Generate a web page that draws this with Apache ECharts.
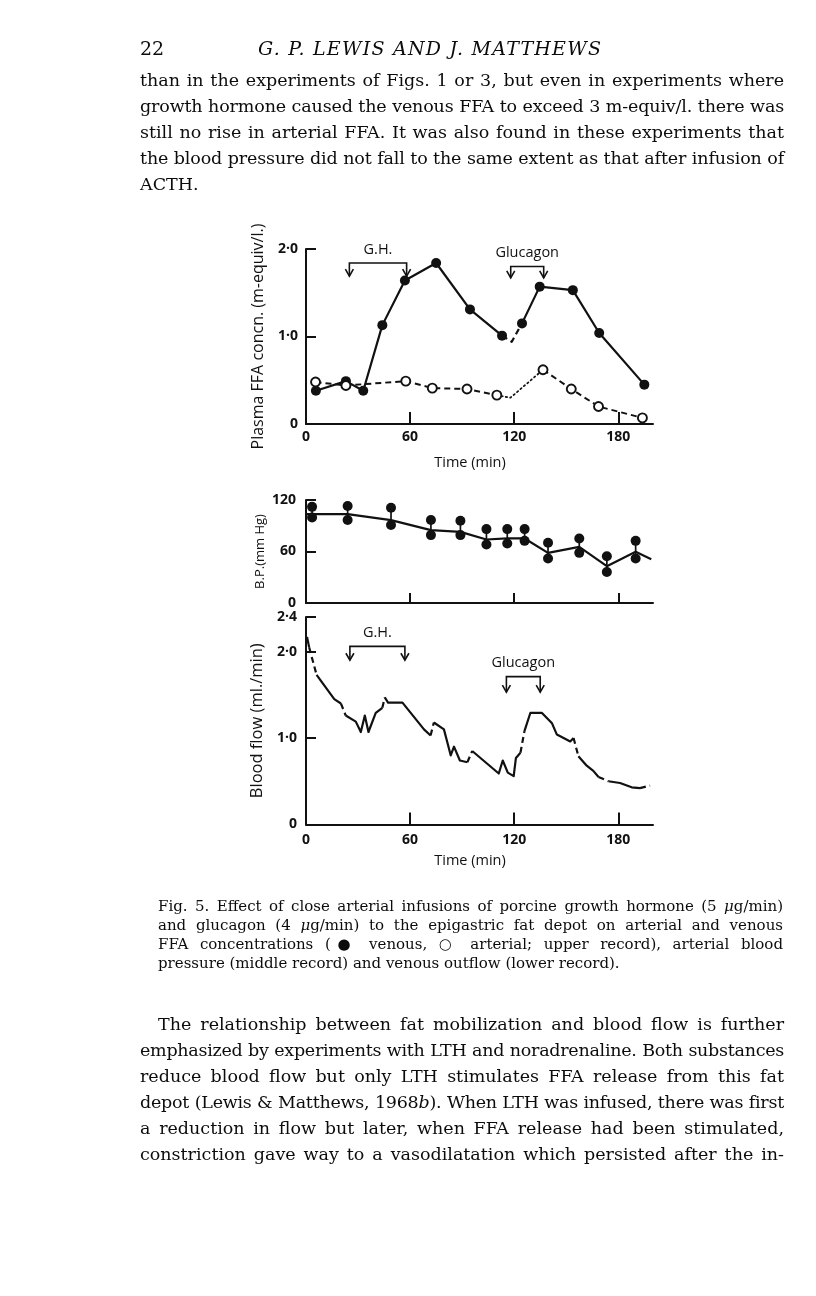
<!DOCTYPE html>
<html><head><meta charset="utf-8">
<script src="https://cdn.jsdelivr.net/npm/echarts@6/dist/echarts.min.js"></script>
<style>
html,body{margin:0;padding:0;background:#fff;}
#chart{position:absolute;left:0;top:0;width:816px;height:1296px;}
.t{position:absolute;font-family:"DejaVu Serif",serif;color:#0c0c0c;white-space:nowrap;}
</style></head><body>
<div id="chart"></div>
<script>
// ---------- data ----------
const xTicks = [0, 60, 120, 180];
const ffaTicks = [0, 1, 2];
const bpTicks = [0, 60, 120];
const flowTicks = [0, 1, 2, 2.4];

// Plasma FFA, venous (filled circles)
const venTime = [5.7, 23, 33, 44, 57, 75, 94.5, 113, 118.6, 124.5, 134.7, 153.8, 169, 195];
const venFFA  = [0.38, 0.49, 0.38, 1.13, 1.64, 1.84, 1.31, 1.01, 0.94, 1.15, 1.57, 1.53, 1.04, 0.45];
const venMark = [1,1,1,1,1,1,1,1,0,1,1,1,1,1];
const venSeg  = ['s','s','s','s','s','s','s','d','d','s','s','s','s'];

// Plasma FFA, arterial (open circles)
const artTime = [5.5, 23, 57.5, 72.8, 92.8, 110, 117.8, 136.6, 152.9, 168.6, 193.9];
const artFFA  = [0.48, 0.44, 0.49, 0.41, 0.40, 0.33, 0.30, 0.62, 0.40, 0.20, 0.07];
const artMark = [1,1,1,1,1,1,0,1,1,1,1];
const artSeg  = ['d','d','d','d','d','o','o','d','d','d'];

// Blood pressure
const bpTime = [3.5, 24, 49, 72, 89, 104, 116, 126, 139.5, 157.5, 173.4, 190];
const bpSys  = [112, 113, 111, 96.6, 95.8, 86.1, 86.1, 86.1, 70.1, 75.2, 54.5, 72.4];
const bpDia  = [99.7, 96.6, 90.8, 79.1, 79.1, 68.2, 69.4, 72.4, 51.9, 58.4, 36.2, 51.9];
const bpLineTime = [0, 24, 49, 72, 89, 104, 116, 126, 139.5, 157.5, 173.4, 190, 199];
const bpLineVal  = [103.6, 103.6, 96.6, 84.9, 82.9, 74, 75.2, 75.2, 58.4, 65.4, 42.9, 59.6, 51];

// Blood flow trace
const flowTime = [0.6, 1.8, 6.1, 16.3, 20.1, 22.9, 28.7, 31.6, 33.9, 36.0, 40.2, 44.0, 45.4, 47.3, 55.6,
  68.0, 71.8, 73.7, 79.5, 83.4, 85.3, 88.7, 93.0, 95.8, 111.1, 113.4, 116.3, 119.7, 121.0, 123.6,
  125.9, 129.3, 136.0, 141.8, 144.6, 152.3, 154.2, 157.0, 161.8, 165.6, 168.6, 174.3, 181.0, 187.7, 192.5, 198.3];
const flowVal = [2.17, 2.05, 1.73, 1.45, 1.40, 1.26, 1.19, 1.07, 1.26, 1.07, 1.29, 1.35, 1.47, 1.41, 1.41,
  1.10, 1.03, 1.18, 1.10, 0.80, 0.90, 0.74, 0.72, 0.85, 0.59, 0.74, 0.60, 0.56, 0.77, 0.83,
  1.08, 1.29, 1.29, 1.17, 1.04, 0.96, 1.00, 0.79, 0.68, 0.62, 0.55, 0.50, 0.48, 0.43, 0.42, 0.45];
const flowSeg = ['s','d','s','s','d','s','s','s','s','s','s','d','s','s','s',
  's','d','s','s','s','s','s','d','s','s','s','s','s','s','d',
  's','s','s','s','s','s','d','s','s','s','d','s','s','s','d'];

// Infusion periods (min)
const ghTop = [25, 58], glucTop = [118, 137];
const ghLow = [25.3, 57], glucLow = [115.5, 135];

// ---------- drawing ----------
const INK = '#111';
const SANS = '"Open Sans", Lato, sans-serif';
const TICKFONT = {fontFamily:SANS, fontWeight:'bold', fontSize:14, color:INK};
const NAMEFONT = {fontFamily:SANS, fontSize:15.5, color:INK};
const dec = v => v === 0 ? '0' : v.toFixed(1).replace('.', '\u00b7');

function xAx(i, showLabels, tickLen, labelMargin, nameGap) {
  return {
    type:'value', gridIndex:i, min:0, max:200,
    axisLine:{onZero:false, lineStyle:{color:INK, width:2}},
    axisTick:{inside:true, length:tickLen, customValues:xTicks.filter(v => v > 0), lineStyle:{color:INK, width:2}},
    axisLabel:Object.assign({show:showLabels, customValues:xTicks, margin:labelMargin}, TICKFONT),
    splitLine:{show:false},
    name: showLabels ? 'Time (min)' : '', nameLocation:'middle', nameGap:nameGap,
    nameTextStyle:Object.assign({padding:[0,19,0,0]}, NAMEFONT, {fontSize:14.5})
  };
}
function yAx(i, max, ticks, fmt, name, nameSize, margin, nameGap) {
  return {
    type:'value', gridIndex:i, min:0, max:max,
    axisLine:{onZero:false, lineStyle:{color:INK, width:2}},
    axisTick:{inside:true, length:10, customValues:ticks.filter(v => v > 0), lineStyle:{color:INK, width:2}},
    axisLabel:Object.assign({customValues:ticks, formatter:fmt, margin:margin}, TICKFONT),
    splitLine:{show:false},
    name:name, nameLocation:'middle', nameRotate:90, nameGap:nameGap,
    nameTextStyle:Object.assign({}, NAMEFONT, {fontSize:nameSize})
  };
}

const dashes = {s:'solid', d:[6,4], o:[1.5,3]};
function runs(times, vals, segs, axis, width) {
  const out = []; let cur = null;
  for (let i = 0; i < segs.length; i++) {
    if (!cur || cur.style !== segs[i]) { cur = {style:segs[i], pts:[[times[i], vals[i]]]}; out.push(cur); }
    cur.pts.push([times[i+1], vals[i+1]]);
  }
  return out.map(r => ({
    type:'line', xAxisIndex:axis, yAxisIndex:axis, data:r.pts, symbol:'none', silent:true,
    lineStyle:{color:INK, opacity:1, width: r.style === 'o' ? 1.7 : width, type: dashes[r.style], join:'round', cap: r.style==='o' ? 'round' : 'butt'},
    z:2
  }));
}

function bracket(axis, win, yTop, yTip, label) {
  return {
    type:'custom', xAxisIndex:axis, yAxisIndex:axis, silent:true, z:5,
    data:[win],
    renderItem:function(params, api) {
      const a = api.coord([api.value(0), yTop]), b = api.coord([api.value(1), yTop]);
      const ta = api.coord([api.value(0), yTip]), tb = api.coord([api.value(1), yTip]);
      const st = {stroke:INK, lineWidth:1.6, fill:null};
      const head = p => ({type:'polyline', shape:{points:[[p[0]-4, p[1]-7], p, [p[0]+4, p[1]-7]]}, style:st});
      return {type:'group', children:[
        {type:'polyline', shape:{points:[ta, a, b, tb]}, style:st},
        head(ta), head(tb),
        {type:'text', x:(a[0]+b[0])/2, y:a[1]-6, style:{text:label, align:'center', verticalAlign:'bottom', fontFamily:SANS, fontSize:14.5, fill:INK}}
      ]};
    }
  };
}

const series = [];
series.push(...runs(venTime, venFFA, venSeg, 0, 2.2));
series.push(...runs(artTime, artFFA, artSeg, 0, 2));
series.push({type:'scatter', xAxisIndex:0, yAxisIndex:0, symbol:'circle', symbolSize:10, silent:true, z:4,
  data: venTime.map((t,i) => [t, venFFA[i]]).filter((p,i) => venMark[i]), itemStyle:{color:INK, opacity:1}});
series.push({type:'scatter', xAxisIndex:0, yAxisIndex:0, symbol:'circle', symbolSize:9, silent:true, z:6,
  data: artTime.map((t,i) => [t, artFFA[i]]).filter((p,i) => artMark[i]), itemStyle:{color:'#fff', opacity:1, borderColor:INK, borderWidth:1.9}});
series.push(bracket(0, ghTop, 1.84, 1.69, 'G.H.'));
series.push(bracket(0, glucTop, 1.80, 1.67, 'Glucagon'));

// Blood pressure
series.push({type:'line', xAxisIndex:1, yAxisIndex:1, symbol:'none', silent:true, z:2,
  data: bpLineTime.map((t,i) => [t, bpLineVal[i]]), lineStyle:{color:INK, width:2.2, opacity:1}});
series.push({type:'custom', xAxisIndex:1, yAxisIndex:1, silent:true, z:3,
  data: bpTime.map((t,i) => [t, bpSys[i], bpDia[i]]),
  renderItem:function(params, api) {
    const p1 = api.coord([api.value(0), api.value(1)]), p2 = api.coord([api.value(0), api.value(2)]);
    return {type:'line', shape:{x1:p1[0], y1:p1[1], x2:p2[0], y2:p2[1]}, style:{stroke:INK, lineWidth:1.7}};
  }});
series.push({type:'scatter', xAxisIndex:1, yAxisIndex:1, symbol:'circle', symbolSize:10, silent:true, z:4,
  data: bpTime.map((t,i) => [t, bpSys[i]]).concat(bpTime.map((t,i) => [t, bpDia[i]])), itemStyle:{color:INK, opacity:1}});

// Blood flow
series.push(...runs(flowTime, flowVal, flowSeg, 2, 2.2));
series.push(bracket(2, ghLow, 2.06, 1.90, 'G.H.'));
series.push(bracket(2, glucLow, 1.71, 1.53, 'Glucagon'));

const chart = echarts.init(document.getElementById('chart'), null, {renderer:'canvas'});
chart.setOption({
  animation:false,
  backgroundColor:'#fff',
  grid:[
    {left:306, top:249, width:347, height:175},
    {left:306, top:500, width:347, height:103},
    {left:306, top:617, width:347, height:207.5}
  ],
  xAxis:[xAx(0, true, 12, 6, 31), xAx(1, false, 10, 7, 30), xAx(2, true, 12, 9, 29)],
  yAxis:[
    yAx(0, 2, ffaTicks, dec, 'Plasma FFA concn. (m-equiv/l.)', 16, 8, 40),
    yAx(1, 120, bpTicks, v => String(v), 'B.P.(mm Hg)', 13, 10, 39),
    yAx(2, 2.4, flowTicks, dec, 'Blood flow (ml./min)', 16.5, 9, 40)
  ],
  series:series
});

// ---------- page text ----------
const BODY = 17.5, CAP = 15;
const textLines = [
  {x:140, cy:48, size:19, lh:24, html:'22'},
  {x:258, cy:48, size:19, lh:24, w:345, fit:true, html:'<i>G.&nbsp;P.&nbsp;LEWIS AND J.&nbsp;MATTHEWS</i>'},
  {x:140, cy:80, size:BODY, lh:26, w:644, just:true, html:'than in the experiments of Figs. 1 or 3, but even in experiments where'},
  {x:140, cy:106, size:BODY, lh:26, w:644, just:true, html:'growth hormone caused the venous FFA to exceed 3 m-equiv/l. there was'},
  {x:140, cy:132, size:BODY, lh:26, w:644, just:true, html:'still no rise in arterial FFA. It was also found in these experiments that'},
  {x:140, cy:158, size:BODY, lh:26, w:644, just:true, html:'the blood pressure did not fall to the same extent as that after infusion of'},
  {x:140, cy:184, size:BODY, lh:26, html:'ACTH.'},
  {x:158, cy:906, size:CAP, lh:19, w:625, just:true, html:'Fig. 5. Effect of close arterial infusions of porcine growth hormone (5 <i>\u03bc</i>g/min)'},
  {x:158, cy:925, size:CAP, lh:19, w:625, just:true, html:'and glucagon (4 <i>\u03bc</i>g/min) to the epigastric fat depot on arterial and venous'},
  {x:158, cy:944, size:CAP, lh:19, w:625, just:true, html:'FFA concentrations (\u25cf venous, \u25cb arterial;  upper record), arterial blood'},
  {x:158, cy:963, size:CAP, lh:19, html:'pressure (middle record) and venous outflow (lower record).'},
  {x:158, cy:1024, size:BODY, lh:26, w:626, just:true, html:'The relationship between fat mobilization and blood flow is further'},
  {x:140, cy:1050, size:BODY, lh:26, w:644, just:true, html:'emphasized by experiments with LTH and noradrenaline. Both substances'},
  {x:140, cy:1076, size:BODY, lh:26, w:644, just:true, html:'reduce blood flow but only LTH stimulates FFA release from this fat'},
  {x:140, cy:1102, size:BODY, lh:26, w:644, just:true, html:'depot (Lewis &amp; Matthews, 1968<i>b</i>). When LTH was infused, there was first'},
  {x:140, cy:1128, size:BODY, lh:26, w:644, just:true, html:'a reduction in flow but later, when FFA release had been stimulated,'},
  {x:140, cy:1154, size:BODY, lh:26, w:644, just:true, html:'constriction gave way to a vasodilatation which persisted after the in-'}
];
textLines.forEach(L => {
  const d = document.createElement('div');
  d.className = 't';
  d.style.left = L.x + 'px';
  d.style.top = (L.cy - L.lh / 2) + 'px';
  d.style.fontSize = L.size + 'px';
  d.style.lineHeight = L.lh + 'px';
  d.innerHTML = '<span>' + L.html + '</span>';
  document.body.appendChild(d);
  const sp = d.firstChild;
  const w = sp.getBoundingClientRect().width;
  const n = sp.textContent.length;
  if (L.w) {
    if (L.fit || w > L.w - 2) {
      sp.style.letterSpacing = ((L.w - 2 - w) / Math.max(1, n - 1)) + 'px';
    }
    if (L.just) {
      d.style.width = L.w + 'px';
      d.style.whiteSpace = 'nowrap';
      d.style.textAlign = 'justify';
      d.style.textAlignLast = 'justify';
      d.style.height = L.lh + 'px';
    }
  }
});
</script>
</body></html>
